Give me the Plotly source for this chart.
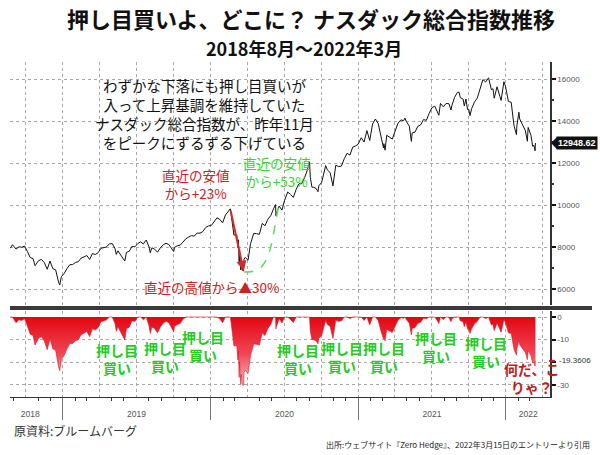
import plotly.graph_objects as go
import pandas as pd

# ---------------- data ----------------
dates = [
 "2018-08-24","2018-08-29","2018-09-07","2018-09-14","2018-09-21","2018-09-28","2018-10-05","2018-10-12",
 "2018-10-19","2018-10-24","2018-10-26","2018-11-02","2018-11-09","2018-11-16","2018-11-23","2018-11-30",
 "2018-12-07","2018-12-14","2018-12-21","2018-12-24","2018-12-28",
 "2019-01-04","2019-01-11","2019-01-18","2019-01-25","2019-02-01","2019-02-08","2019-02-15","2019-02-22",
 "2019-03-01","2019-03-08","2019-03-15","2019-03-22","2019-03-29","2019-04-05","2019-04-12","2019-04-18",
 "2019-04-26","2019-05-03","2019-05-10","2019-05-13","2019-05-17","2019-05-24","2019-06-03","2019-06-07",
 "2019-06-14","2019-06-21","2019-06-28","2019-07-05","2019-07-12","2019-07-19","2019-07-26","2019-08-02",
 "2019-08-05","2019-08-09","2019-08-16","2019-08-23","2019-08-30","2019-09-06","2019-09-13","2019-09-20",
 "2019-09-27","2019-10-02","2019-10-04","2019-10-11","2019-10-18","2019-10-25","2019-11-01","2019-11-08",
 "2019-11-15","2019-11-22","2019-11-29","2019-12-06","2019-12-13","2019-12-20","2019-12-27",
 "2020-01-03","2020-01-10","2020-01-17","2020-01-24","2020-01-31","2020-02-07","2020-02-14","2020-02-19",
 "2020-02-21","2020-02-28","2020-03-06","2020-03-09","2020-03-10","2020-03-12","2020-03-13","2020-03-16",
 "2020-03-17","2020-03-20","2020-03-23","2020-03-24","2020-03-27","2020-04-03","2020-04-09","2020-04-17",
 "2020-04-24","2020-05-01","2020-05-08","2020-05-15","2020-05-22","2020-05-29","2020-06-05","2020-06-10",
 "2020-06-11","2020-06-12","2020-06-19","2020-06-26","2020-07-02","2020-07-10","2020-07-17","2020-07-24",
 "2020-07-31","2020-08-07","2020-08-14","2020-08-21","2020-08-28","2020-09-02","2020-09-04","2020-09-08",
 "2020-09-11","2020-09-18","2020-09-23","2020-09-25","2020-10-02","2020-10-09","2020-10-12","2020-10-16",
 "2020-10-23","2020-10-30","2020-11-06","2020-11-13","2020-11-20","2020-11-27","2020-12-04","2020-12-11",
 "2020-12-18","2020-12-24","2020-12-31",
 "2021-01-08","2021-01-15","2021-01-22","2021-01-29","2021-02-05","2021-02-12","2021-02-19","2021-02-26",
 "2021-03-04","2021-03-05","2021-03-08","2021-03-12","2021-03-19","2021-03-26","2021-04-01","2021-04-09",
 "2021-04-16","2021-04-23","2021-04-26","2021-04-30","2021-05-07","2021-05-12","2021-05-14","2021-05-21",
 "2021-05-28","2021-06-04","2021-06-11","2021-06-18","2021-06-25","2021-07-02","2021-07-09","2021-07-16",
 "2021-07-19","2021-07-23","2021-07-30","2021-08-06","2021-08-13","2021-08-18","2021-08-20","2021-08-27",
 "2021-09-03","2021-09-07","2021-09-10","2021-09-17","2021-09-20","2021-09-24","2021-09-28","2021-10-01",
 "2021-10-04","2021-10-08","2021-10-15","2021-10-22","2021-10-29","2021-11-05","2021-11-12","2021-11-19",
 "2021-11-26","2021-11-30","2021-12-03","2021-12-10","2021-12-17","2021-12-20","2021-12-27","2021-12-31",
 "2022-01-07","2022-01-14","2022-01-21","2022-01-27","2022-01-28","2022-02-02","2022-02-04","2022-02-11",
 "2022-02-18","2022-02-23","2022-02-25","2022-03-04","2022-03-08","2022-03-11","2022-03-14","2022-03-15",
]
close = [
 7945.98,8109.69,7902.54,8010.04,7986.96,8046.35,7788.45,7496.89,
 7449.03,7108.40,7167.21,7356.99,7406.90,7247.87,6938.98,7330.54,
 6969.25,6910.66,6332.99,6192.92,6584.52,
 6738.86,6971.48,7157.23,7164.86,7263.87,7298.20,7472.41,7527.54,
 7595.35,7408.14,7688.53,7642.67,7729.32,7938.69,7984.16,7998.06,
 8146.40,8164.00,7916.94,7647.02,7816.28,7637.01,7333.02,7742.10,
 7796.66,8031.71,8006.24,8161.79,8244.14,8146.49,8330.21,8004.07,
 7726.04,7959.14,7895.99,7751.77,7962.88,8103.07,8176.71,8117.67,
 7939.63,7785.25,7982.47,8057.04,8089.54,8243.12,8386.40,8475.31,
 8540.83,8519.88,8665.47,8656.53,8734.88,8924.96,9006.62,
 9020.77,9178.86,9388.94,9314.91,9150.94,9520.51,9731.18,9817.18,
 9576.59,8567.37,8575.62,7950.68,8344.25,7201.80,7874.88,6904.59,
 7334.78,6879.52,6860.67,7417.86,7502.38,7373.08,8153.58,8650.14,
 8634.52,8604.95,9121.32,9014.56,9324.59,9489.87,9814.08,10020.35,
 9492.73,9588.81,9946.12,9757.22,10207.63,10617.44,10503.19,10363.18,
 10745.27,11010.98,11019.30,11311.80,11695.63,12056.44,11313.13,10847.69,
 10853.55,10793.28,10632.99,10913.56,11075.02,11579.94,11876.26,11671.56,
 11548.28,10911.59,11895.23,11829.29,11854.97,12205.85,12464.23,12377.87,
 12755.64,12804.73,12888.28,
 13201.98,12998.50,13543.06,13070.69,13856.30,14095.47,13874.46,13192.35,
 12723.47,12920.15,12609.16,13319.87,13215.24,13138.73,13480.11,13900.19,
 14052.34,14016.81,14138.78,13962.68,13752.24,13031.68,13429.98,13470.99,
 13748.74,13814.49,14069.42,14030.38,14360.39,14639.33,14701.92,14427.24,
 14274.98,14836.99,14672.68,14835.76,14822.90,14525.91,14714.66,15129.50,
 15363.52,15374.33,15115.49,15043.97,14713.90,15047.70,14546.68,14566.70,
 14255.49,14579.54,14897.34,15090.20,15498.39,15971.59,15860.96,16057.44,
 15491.66,15537.69,15085.47,15630.60,15169.68,14980.94,15871.26,15644.97,
 14935.90,14893.75,13768.92,13352.78,13770.57,14417.55,14098.01,13791.15,
 13548.07,13037.49,13694.62,13313.44,12795.55,12843.81,12581.22,12948.62,
]

price_ticks = [6000, 8000, 10000, 12000, 14000, 16000]
price_tick_text = ["6000", "8000", "10000", "12000", "14000", "16000"]
dd_ticks = [0, -10, -20, -30]
dd_tick_text = ["0", "-10", "", "-30"]
year_bounds = ["2019-01-01", "2020-01-01", "2021-01-01", "2022-01-01"]
year_label_pos = ["2018-10-12", "2019-07-02", "2020-07-02", "2021-07-02", "2022-02-25"]
year_labels = ["2018", "2019", "2020", "2021", "2022"]

# hand-drawn green dashed guide (annotation path)
guide_dates = ["2020-03-24", "2020-04-27", "2020-05-15", "2020-05-27", "2020-06-04", "2020-06-11", "2020-06-19"]
guide_vals = [6810, 6905, 7286, 7857, 8524, 9286, 10095]

buy_dip_pos = [(117, 359), (165, 357), (203, 346), (298, 359), (342, 357), (384, 357), (436, 347), (486, 352)]

# ---------------- derived drawdown (from running high) ----------------
s = pd.Series(close, index=pd.to_datetime(dates))
drawdown = ((s / s.cummax()) - 1.0) * 100.0

X_RANGE = ["2018-08-23", "2022-04-20"]
JP = "Noto Sans CJK JP"
AX = "Liberation Sans"

L, R, T, B, W, H = 10, 50, 62, 58, 600, 455
PW, PH = W - L - R, H - T - B
def px(x): return (x - L) / PW
def py(y): return (H - B - y) / PH

fig = go.Figure()
fig.add_trace(go.Scatter(x=dates, y=close, mode="lines", line=dict(color="#111111", width=1),
                         xaxis="x", yaxis="y", hoverinfo="skip"))
fig.add_trace(go.Scatter(x=guide_dates, y=guide_vals, mode="lines",
                         line=dict(color="#66dd66", width=1.6, dash="dash", shape="spline"),
                         xaxis="x", yaxis="y", hoverinfo="skip"))
fig.add_trace(go.Scatter(x=drawdown.index, y=drawdown.values, mode="lines",
                         line=dict(color="#e01020", width=0.6),
                         fill="tozeroy",
                         fillgradient=dict(type="vertical", start=-30, stop=0,
                                           colorscale=[[0, "#f9c0c6"], [0.45, "#f04858"], [1, "#e30613"]]),
                         xaxis="x2", yaxis="y2", hoverinfo="skip"))

grid = dict(showgrid=True, gridcolor="#a8a8a8", griddash="dot", gridwidth=1)
tickfont = dict(family=AX, size=8, color="#555555")

fig.update_layout(
    width=W, height=H, margin=dict(l=L, r=R, t=T, b=B),
    paper_bgcolor="white", plot_bgcolor="white", showlegend=False,
    font=dict(family=JP),
    xaxis=dict(type="date", range=X_RANGE, domain=[0, 1], anchor="y", showticklabels=False,
               tickmode="linear", tick0="2018-01-01", dtick="M3", ticks="", zeroline=False,
               showline=False, **grid),
    yaxis=dict(domain=[py(305), 1], range=[5238, 16810], side="right", anchor="x",
               tickmode="array", tickvals=price_ticks, ticktext=price_tick_text,
               ticks="outside", ticklen=4, tickwidth=2, tickcolor="#111111",
               showline=True, linecolor="#333333", linewidth=1.5, zeroline=False,
               tickfont=tickfont,
               minor=dict(tickmode="linear", tick0=0, dtick=1000, ticks="outside", ticklen=2,
                          tickcolor="#333333", showgrid=False),
               **grid),
    xaxis2=dict(type="date", range=X_RANGE, domain=[0, 1], anchor="y2", showticklabels=False,
                tickmode="linear", tick0="2018-01-01", dtick="M3", ticks="", zeroline=False,
                showline=True, linecolor="#333333", linewidth=1,
                minor=dict(tickmode="linear", tick0="2018-01-01", dtick="M1", ticks="outside",
                           ticklen=3, tickcolor="#333333", showgrid=False),
                **grid),
    xaxis3=dict(type="date", range=X_RANGE, overlaying="x2", anchor="y2", showgrid=False,
                tickmode="array", tickvals=year_bounds, ticktext=["", "", "", ""],
                ticks="outside", ticklen=22, tickcolor="#777777", tickwidth=1,
                showline=False, zeroline=False),
    xaxis4=dict(type="date", range=X_RANGE, overlaying="x2", anchor="y2", showgrid=False,
                tickmode="array", tickvals=year_label_pos, ticktext=year_labels,
                ticks="outside", ticklen=9, tickcolor="rgba(0,0,0,0)",
                tickfont=dict(family=AX, size=8.5, color="#555555"),
                showline=False, zeroline=False),
    yaxis2=dict(domain=[0, py(311)], range=[-35.3, 2.65], side="right", anchor="x2",
                tickmode="array", tickvals=dd_ticks, ticktext=dd_tick_text,
                ticks="outside", ticklen=4, tickwidth=2, tickcolor="#111111",
                showline=True, linecolor="#333333", linewidth=1.5, zeroline=False,
                tickfont=tickfont, **grid),
)

# overlay axes need a trace to render: attach invisible points
fig.add_trace(go.Scatter(x=[X_RANGE[0]], y=[0], xaxis="x3", yaxis="y2", mode="markers",
                         marker=dict(opacity=0), hoverinfo="skip"))
fig.add_trace(go.Scatter(x=[X_RANGE[0]], y=[0], xaxis="x4", yaxis="y2", mode="markers",
                         marker=dict(opacity=0), hoverinfo="skip"))

ann = []
def text(x, y, t, size, color, bold=False, xanchor="center", family=JP):
    ann.append(dict(x=px(x), y=py(y), xref="paper", yref="paper", text=("<b>%s</b>" % t) if bold else t,
                    showarrow=False, xanchor=xanchor, yanchor="middle",
                    font=dict(family=family, size=size, color=color)))

text(311, 18, "押し目買いよ、どこに？ ナスダック総合指数推移", 22, "#111111", bold=True)
text(304, 48, "2018年8月～2022年3月", 18, "#111111", bold=True)
text(204, 114, "わずかな下落にも押し目買いが<br>入って上昇基調を維持していた<br>ナスダック総合指数が、昨年11月<br>をピークにずるずる下げている",
     14.5, "#111111")
text(196, 184, "直近の安値<br>から+23%", 13.5, "#cc2222")
text(277, 172, "直近の安値<br>から+53%", 13.5, "#2fd82f")
text(211, 287, "直近の高値から▲30%", 13.5, "#cc2222")
for (bx, by) in buy_dip_pos:
    text(bx, by, "押し目<br>買い", 14, "#22cc22", bold=True)
text(532, 378, "何だ、こ<br>りゃ？", 14, "#c01c1c", bold=True)
text(12, 430, "原資料:ブルームバーグ", 12, "#333333", xanchor="left")
text(592, 444, "出所:ウェブサイト『Zero Hedge』、2022年3月15日のエントリーより引用", 8, "#222222", xanchor="right")

# arrow from pre-crash high to crash low (data points)
i_peak = dates.index("2020-02-19")
i_low = dates.index("2020-03-23")
ann.append(dict(x=dates[i_low], y=close[i_low], xref="x", yref="y",
                ax=dates[i_peak], ay=close[i_peak], axref="x", ayref="y",
                showarrow=True, arrowhead=2, arrowsize=1, arrowwidth=2, arrowcolor="#d42a2a", text=""))

# last value label
ann.append(dict(x=px(556), y=close[-1], xref="paper", yref="y", text="<b>%.2f</b>" % close[-1],
                showarrow=False, xanchor="left", yanchor="middle", bgcolor="#111111", borderpad=1,
                font=dict(family=AX, size=9, color="white")))
ann.append(dict(x=px(557), y=float(drawdown.values[-1]), xref="paper", yref="y2",
                text="%.4f" % drawdown.values[-1], showarrow=False, xanchor="left", yanchor="middle",
                font=dict(family=AX, size=8, color="#333333")))
fig.update_layout(annotations=ann)

shapes = [
    dict(type="rect", xref="paper", yref="paper", x0=0, x1=px(592), y0=py(310), y1=py(306),
         fillcolor="#3a3a3a", line=dict(width=0), layer="above"),
    dict(type="path", xref="paper", yref="y",
         path="M %f,%f L %f,%f L %f,%f Z" % (px(551), close[-1], px(557), close[-1] + 290, px(557), close[-1] - 290),
         fillcolor="#111111", line=dict(width=0)),
    dict(type="line", xref="paper", yref="y2", x0=px(549), x1=px(555),
         y0=float(drawdown.values[-1]), y1=float(drawdown.values[-1]), line=dict(color="#e01020", width=2)),
]
fig.update_layout(shapes=shapes)

fig.write_html("out.html")
